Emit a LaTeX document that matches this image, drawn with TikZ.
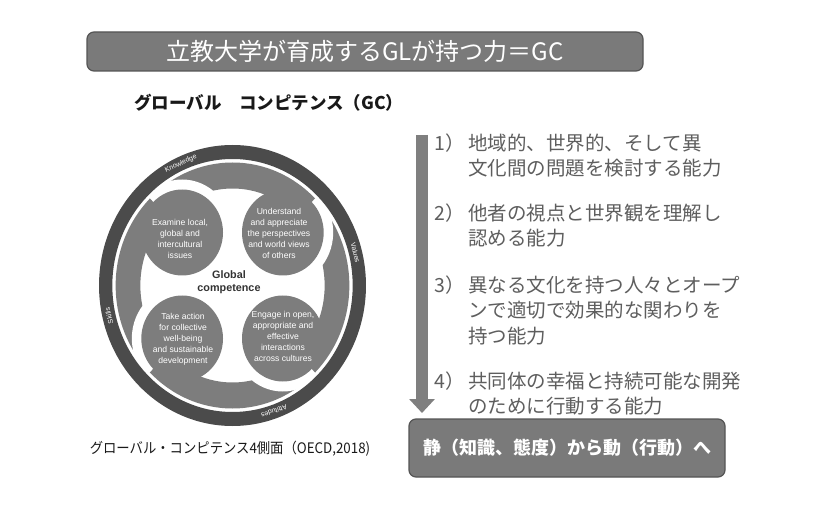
\documentclass[tikz,border=0pt]{standalone}
\usepackage{fontspec}
\setmainfont{Noto Sans CJK JP}
\newfontfamily\latinfont{Liberation Sans}
\newfontfamily\capfont[FakeStretch=0.92]{Noto Sans CJK JP}
\usetikzlibrary{arrows.meta}

\definecolor{boxgray}{HTML}{7A7A7A}
\definecolor{boxedge}{HTML}{555555}
\definecolor{lobegray}{HTML}{7D7D7D}
\definecolor{ringgray}{HTML}{4B4B4B}
\definecolor{listgray}{HTML}{5E5E5E}
\definecolor{arrowgray}{HTML}{7F7F7F}
\definecolor{coretext}{HTML}{333333}

\begin{document}
\begin{tikzpicture}[x=1pt,y=1pt,
  banner/.style={draw=boxedge, line width=1.2pt, fill=boxgray, rounded corners=7pt, text=white},
  listline/.style={anchor=base west, text=listgray, inner sep=0pt, font=\fontsize{19.5}{25.5}\selectfont},
  lobetext/.style={align=center, text=white, inner sep=0pt, font=\latinfont\fontsize{8.6}{11}\selectfont},
  ringtext/.style={text=white, inner sep=0pt, font=\latinfont\fontsize{6.9}{8}\selectfont},
]
\useasboundingbox (0,0) rectangle (814,528);
\fill[white] (0,0) rectangle (814,528);

% heading banner and subtitle
\node[banner, minimum width=556, minimum height=39, inner sep=0pt,
      font=\fontsize{24}{26}\selectfont] (title) at (365,476.5) {立教大学が育成するGLが持つ力＝GC};
\node[anchor=west, inner sep=0pt, text=black!90, font=\bfseries\fontsize{17.5}{21}\selectfont]
  (subtitle) at (134,425) {グローバル　コンピテンス（GC）};

% the four-lobed competence wheel (slightly narrowed horizontally)
\begin{scope}[shift={(232.5,242.5)}, xscale=0.95]
  % tails: each lobe sweeps counter-clockwise along the rim over its neighbour
  \foreach \r in {0,90,180,270}{
    \begin{scope}[rotate=\r]
      \clip (0,0) -- (45:200) -- (90:283) -- (135:200) -- cycle;
      \fill[lobegray, even odd rule] (0,0) circle (123) (0,0) circle (97);
      \fill[white] (-53,53) circle (53);
    \end{scope}
  }
  % round heads of the lobes
  \foreach \r in {0,90,180,270}
    \fill[lobegray, rotate=\r] (-53,53) circle (43);
  % outer ring with its four labels
  \fill[ringgray, even odd rule] (0,0) circle (140.5) (0,0) circle (126.5);
  \node[ringtext, rotate=24]     (knowledge) at (114:133.5)   {Knowledge};
  \node[ringtext, rotate=-75.8]  (values)    at (14.2:133.5)  {Values};
  \node[ringtext, rotate=-160.8] (attitudes) at (-70.8:133.5) {Attitudes};
  \node[ringtext, rotate=103.2]  (skills)    at (193.2:133.5) {Skills};
\end{scope}

\node[lobetext] (examine) at (180,289) {Examine local,\\global and\\intercultural\\issues};
\node[lobetext] (understand) at (279,295) {Understand\\and appreciate\\the perspectives\\and world views\\of others};
\node[lobetext] (action) at (183,189) {Take action\\for collective\\well-being\\and sustainable\\development};
\node[lobetext] (engage) at (283,192) {Engage in open,\\appropriate and\\effective\\interactions\\across cultures};
\node[align=center, inner sep=0pt, text=coretext, font=\latinfont\bfseries\fontsize{10.8}{13}\selectfont]
  (core) at (229,246) {Global\\competence};

\node[inner sep=0pt, text=black!90, font=\capfont\fontsize{14.5}{16}\selectfont]
  (caption) at (230,79) {グローバル・コンピテンス4側面（OECD,2018)};

% downward arrow beside the list
\coordinate (arrowtop) at (422,393);
\coordinate (arrowtip) at (422,115);
\draw[arrowgray, line width=12pt, -{Triangle[width=25pt,length=14pt]}] (arrowtop) -- (arrowtip);

% numbered list
\node[listline] (n1)  at (434,377.6) {1）};
\node[listline] (l1a) at (468,377.6) {地域的、世界的、そして異};
\node[listline] (l1b) at (468,352.1) {文化間の問題を検討する能力};
\node[listline] (n2)  at (434,307.6) {2）};
\node[listline] (l2a) at (468,307.6) {他者の視点と世界観を理解し};
\node[listline] (l2b) at (468,282.1) {認める能力};
\node[listline] (n3)  at (434,235.6) {3）};
\node[listline] (l3a) at (468,235.6) {異なる文化を持つ人々とオープ};
\node[listline] (l3b) at (468,210.1) {ンで適切で効果的な関わりを};
\node[listline] (l3c) at (468,184.6) {持つ能力};
\node[listline] (n4)  at (434,139.6) {4）};
\node[listline] (l4a) at (468,139.6) {共同体の幸福と持続可能な開発};
\node[listline] (l4b) at (468,114.1) {のために行動する能力};

% closing banner
\node[banner, minimum width=316, minimum height=58, inner sep=0pt,
      font=\bfseries\fontsize{18}{20}\selectfont] (shift) at (567,80) {静（知識、態度）から動（行動）へ};
\end{tikzpicture}
\end{document}
